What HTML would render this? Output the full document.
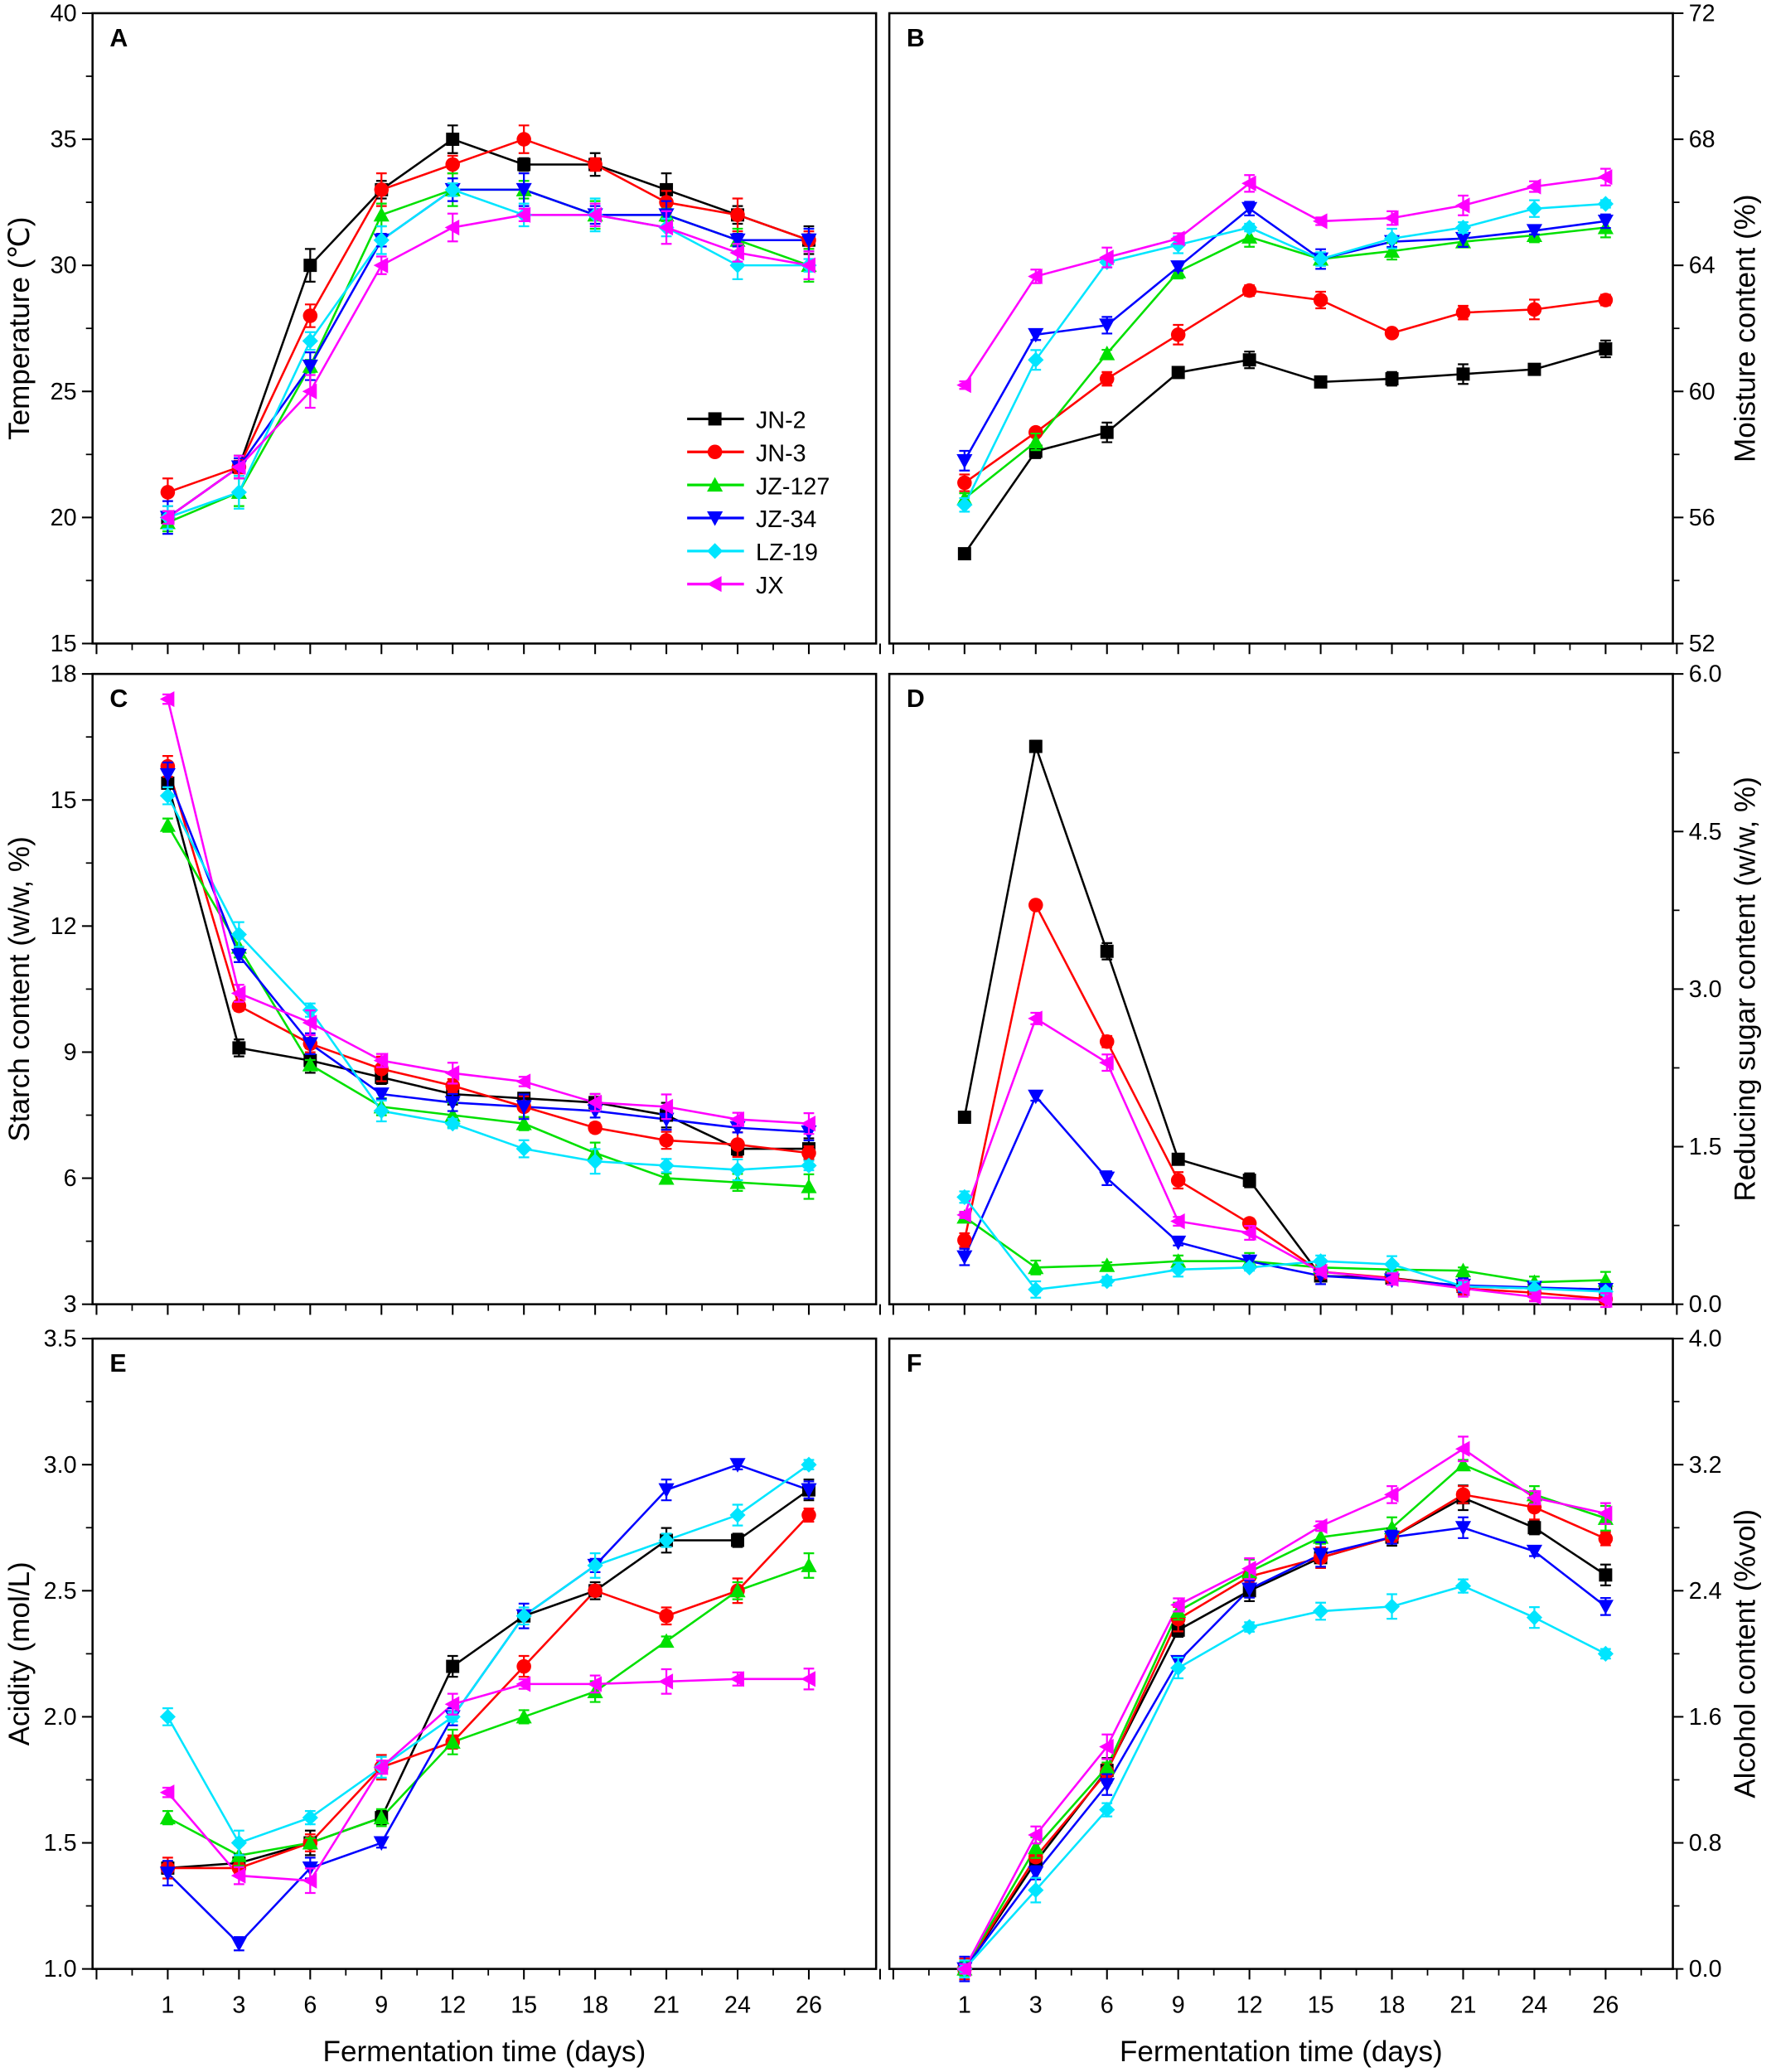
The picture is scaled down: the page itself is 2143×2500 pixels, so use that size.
<!DOCTYPE html>
<html><head><meta charset="utf-8"><style>
html,body{margin:0;padding:0;background:#fff;}
svg{display:block;}
text{font-family:"Liberation Sans",Arial,sans-serif;fill:#000;}
</style></head><body>
<svg id="s" width="2143" height="2500" viewBox="0 0 1344 1568" xmlns="http://www.w3.org/2000/svg"></svg>
<script>
const S=document.getElementById('s');let h='';
const cols=['#000000','#ff0000','#00e000','#0000ff','#00e5ff','#ff00ff'];
const names=['JN-2','JN-3','JZ-127','JZ-34','LZ-19','JX'];
const days=[1,3,6,9,12,15,18,21,24,26];
function marker(k,x,y,c,r){r=r||5;
 if(k==0)return `<rect x="${x-r}" y="${y-r}" width="${2*r}" height="${2*r}" fill="${c}"/>`;
 if(k==1)return `<circle cx="${x}" cy="${y}" r="${r+0.5}" fill="${c}"/>`;
 if(k==2)return `<polygon points="${x},${y-r-1} ${x+r+1},${y+r} ${x-r-1},${y+r}" fill="${c}"/>`;
 if(k==3)return `<polygon points="${x},${y+r+1} ${x+r+1},${y-r} ${x-r-1},${y-r}" fill="${c}"/>`;
 if(k==4)return `<polygon points="${x},${y-r-1} ${x+r+1},${y} ${x},${y+r+1} ${x-r-1},${y}" fill="${c}"/>`;
 return `<polygon points="${x-r-1},${y} ${x+r},${y-r-1} ${x+r},${y+r+1}" fill="${c}"/>`;}
function panel(o){
 const L=o.x0,R=o.x0+593,T=o.y0,B=o.y0+477,W=R-L;
 const X=i=>L+(i+1)*W/11+3;
 const Y=v=>B-(v-o.min)/(o.max-o.min)*(B-T);
 h+=`<rect x="${L}" y="${T}" width="${W}" height="${B-T}" fill="none" stroke="#000" stroke-width="1.6"/>`;
 for(let i=-1;i<=10;i++){let x=X(i);h+=`<line x1="${x}" y1="${B}" x2="${x}" y2="${B+8}" stroke="#000" stroke-width="1.3"/>`;
  let xm=x+W/22; if(xm<R)h+=`<line x1="${xm}" y1="${B}" x2="${xm}" y2="${B+5}" stroke="#000" stroke-width="1.1"/>`;}
 if(o.xl){days.forEach((d,i)=>h+=`<text x="${X(i)}" y="${B+33}" font-size="18" text-anchor="middle">${d}</text>`);
  h+=`<text x="${(L+R)/2}" y="${B+70}" font-size="22" text-anchor="middle">Fermentation time (days)</text>`;}
 const n=Math.round((o.max-o.min)/o.step);
 for(let j=0;j<=n;j++){let v=o.min+j*o.step,y=Y(v);
  if(o.right){h+=`<line x1="${R}" y1="${y}" x2="${R+8}" y2="${y}" stroke="#000" stroke-width="1.3"/>`;
   h+=`<text x="${R+12}" y="${y+6}" font-size="18">${v.toFixed(o.dec)}</text>`;
   if(j<n)h+=`<line x1="${R}" y1="${Y(v+o.step/2)}" x2="${R+5}" y2="${Y(v+o.step/2)}" stroke="#000" stroke-width="1.1"/>`;}
  else{h+=`<line x1="${L-8}" y1="${y}" x2="${L}" y2="${y}" stroke="#000" stroke-width="1.3"/>`;
   h+=`<text x="${L-12}" y="${y+6}" font-size="18" text-anchor="end">${v.toFixed(o.dec)}</text>`;
   if(j<n)h+=`<line x1="${L-5}" y1="${Y(v+o.step/2)}" x2="${L}" y2="${Y(v+o.step/2)}" stroke="#000" stroke-width="1.1"/>`;}}
 if(o.right)h+=`<text transform="translate(${R+62},${(T+B)/2}) rotate(-90)" font-size="22" text-anchor="middle">${o.title}</text>`;
 else h+=`<text transform="translate(${L-48},${(T+B)/2}) rotate(-90)" font-size="22" text-anchor="middle">${o.title}</text>`;
 h+=`<text x="${L+13}" y="${T+25}" font-size="19" font-weight="bold">${o.lab}</text>`;
 o.d.forEach((s,k)=>{let p=s.map((v,i)=>X(i)+','+Y(v)).join(' ');
  h+=`<polyline points="${p}" fill="none" stroke="${cols[k]}" stroke-width="1.6"/>`;});
 o.d.forEach((s,k)=>{s.forEach((v,i)=>{let e=(o.max-o.min)*o.err*(0.5+((i*7+k*3)%5)/5);let y1=Y(v+e),y2=Y(v-e),x=X(i);
  h+=`<path d="M${x},${y1}V${y2}M${x-4},${y1}H${x+4}M${x-4},${y2}H${x+4}" stroke="${cols[k]}" stroke-width="1.4" fill="none"/>`;
  h+=marker(k,x,Y(v),cols[k]);});});
}
panel({x0:70,y0:10,min:15,max:40,step:5,dec:0,lab:'A',title:'Temperature (℃)',err:0.02,d:[
[20,22,30,33,35,34,34,33,32,31],[21,22,28,33,34,35,34,32.5,32,31],[19.8,21,26,32,33,33,32,32,31,30],
[20,22,26,31,33,33,32,32,31,31],[20,21,27,31,33,32,32,31.5,30,30],[20,22,25,30,31.5,32,32,31.5,30.5,30]]});
panel({x0:673,y0:10,min:52,max:72,step:4,dec:0,right:1,lab:'B',title:'Moisture content (%)',err:0.012,d:[
[54.85,58.1,58.7,60.6,61.0,60.3,60.4,60.55,60.7,61.35],[57.1,58.7,60.4,61.8,63.2,62.9,61.85,62.5,62.6,62.9],
[56.6,58.4,61.2,63.8,64.9,64.2,64.45,64.75,64.95,65.2],[57.8,61.8,62.1,63.95,65.8,64.2,64.75,64.85,65.1,65.4],
[56.4,61.0,64.1,64.65,65.2,64.2,64.85,65.2,65.8,65.95],[60.2,63.65,64.25,64.85,66.6,65.4,65.5,65.9,66.5,66.8]]});
panel({x0:70,y0:510,min:3,max:18,step:3,dec:0,lab:'C',title:'Starch content (w/w, %)',err:0.015,d:[
[15.4,9.1,8.8,8.4,8.0,7.9,7.8,7.5,6.7,6.7],[15.8,10.1,9.2,8.6,8.2,7.7,7.2,6.9,6.8,6.6],
[14.4,11.5,8.7,7.7,7.5,7.3,6.6,6.0,5.9,5.8],[15.6,11.3,9.2,8.0,7.8,7.7,7.6,7.4,7.2,7.1],
[15.1,11.8,10.0,7.6,7.3,6.7,6.4,6.3,6.2,6.3],[17.4,10.4,9.7,8.8,8.5,8.3,7.8,7.7,7.4,7.3]]});
panel({x0:673,y0:510,min:0,max:6,step:1.5,dec:1,right:1,lab:'D',title:'Reducing sugar content (w/w, %)',err:0.01,d:[
[1.78,5.31,3.36,1.38,1.18,0.27,0.25,0.17,0.15,0.14],[0.61,3.8,2.5,1.18,0.77,0.31,0.25,0.15,0.11,0.05],
[0.83,0.35,0.37,0.41,0.41,0.35,0.33,0.32,0.21,0.23],[0.45,1.98,1.2,0.59,0.41,0.27,0.23,0.18,0.16,0.14],
[1.02,0.14,0.22,0.33,0.35,0.41,0.38,0.17,0.15,0.12],[0.85,2.72,2.3,0.79,0.68,0.31,0.24,0.15,0.07,0.04]]});
panel({x0:70,y0:1013,min:1,max:3.5,step:0.5,dec:1,xl:1,lab:'E',title:'Acidity (mol/L)',err:0.015,d:[
[1.4,1.42,1.5,1.6,2.2,2.4,2.5,2.7,2.7,2.9],[1.4,1.4,1.5,1.8,1.9,2.2,2.5,2.4,2.5,2.8],
[1.6,1.45,1.5,1.6,1.9,2.0,2.1,2.3,2.5,2.6],[1.38,1.1,1.4,1.5,2.0,2.4,2.6,2.9,3.0,2.9],
[2.0,1.5,1.6,1.8,2.0,2.4,2.6,2.7,2.8,3.0],[1.7,1.37,1.35,1.8,2.05,2.13,2.13,2.14,2.15,2.15]]});
panel({x0:673,y0:1013,min:0,max:4,step:0.8,dec:1,right:1,xl:1,lab:'F',title:'Alcohol content (%vol)',err:0.015,d:[
[0,0.68,1.26,2.15,2.4,2.61,2.74,2.99,2.8,2.5],[0,0.71,1.25,2.22,2.49,2.61,2.74,3.01,2.93,2.73],
[0,0.77,1.28,2.27,2.52,2.74,2.8,3.2,3.01,2.86],[0,0.61,1.17,1.95,2.41,2.63,2.74,2.8,2.65,2.3],
[0,0.5,1.01,1.91,2.17,2.27,2.3,2.43,2.23,2.0],[0,0.85,1.41,2.31,2.54,2.81,3.01,3.3,2.99,2.89]]});
names.forEach((n,k)=>{let y=317+k*25;
 h+=`<line x1="520" y1="${y}" x2="563" y2="${y}" stroke="${cols[k]}" stroke-width="2"/>`+marker(k,541,y,cols[k]);
 h+=`<text x="572" y="${y+7}" font-size="18">${n}</text>`;});
S.innerHTML=h;
</script>
</body></html>
